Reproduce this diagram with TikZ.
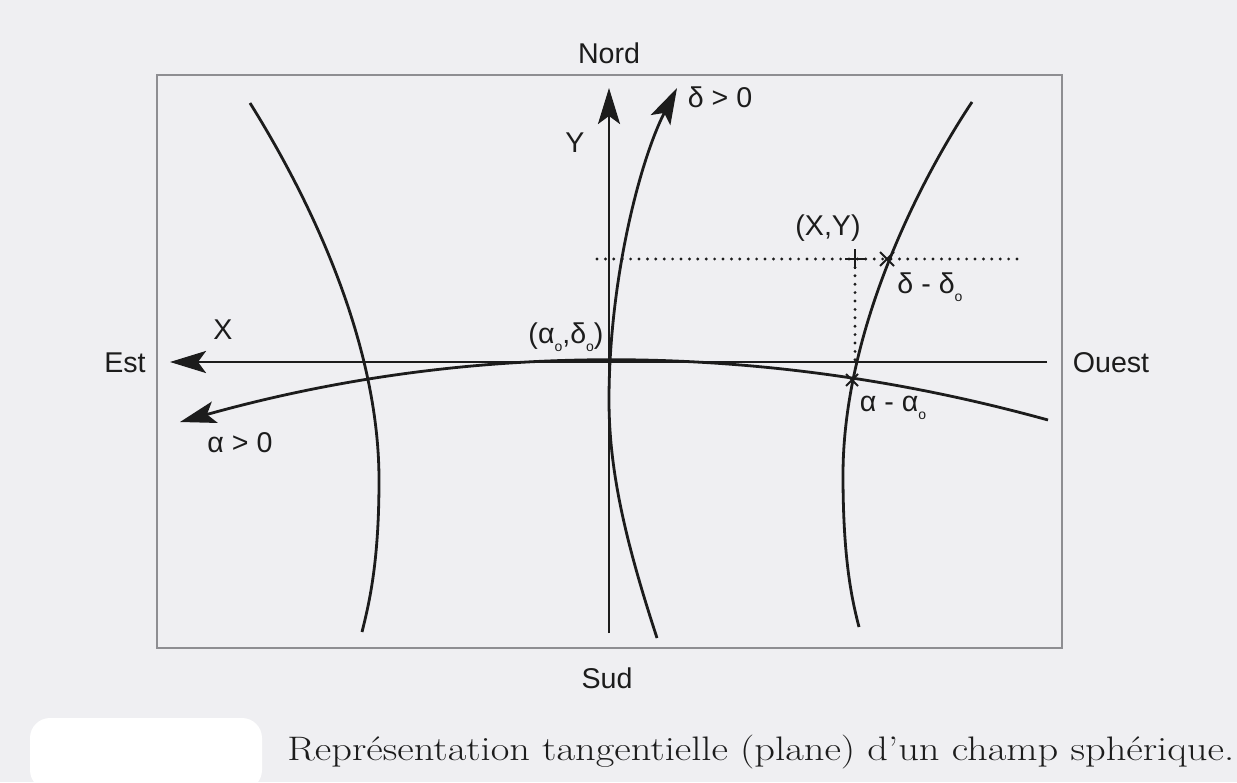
\documentclass[tikz,border=0pt]{standalone}
\usepackage{fontspec}
\usepackage{tikz}
\usetikzlibrary{arrows.meta}
\newfontfamily\labfont{Liberation Sans}
\definecolor{paper}{HTML}{EFEFF2}
\definecolor{framegray}{HTML}{8E8E92}
\definecolor{ink}{HTML}{1C1C1C}
\newcommand\zsub{\raisebox{-0.55ex}{\fontsize{7}{7}\selectfont o}}

\begin{document}
\begin{tikzpicture}[x=0.5pt,y=-0.5pt,
  curve/.style={draw=ink,line width=1.4pt},
  axis/.style={curve,-{Stealth[length=18pt,width=11pt,inset=4pt]}},
  guide/.style={draw=ink,line width=1.6pt,line cap=round,dash pattern=on 0pt off 4.2pt},
  tick/.style={draw=ink,line width=1pt},
  lab/.style={font=\labfont\fontsize{14.3}{16}\selectfont,text=ink,inner sep=1pt}]
 % paper, erased patch and frame
 \fill[paper] (0,0) rectangle (1237,782);
 \useasboundingbox (0,0) rectangle (1237,782);
 \fill[white,rounded corners=10pt] (30,718) rectangle (262,790);
 \draw[framegray,line width=0.7pt] (157,75) rectangle (1062,648);
 % axis ends
 \coordinate (O) at (609,362);
 \coordinate (nordend) at (609,88);
 \coordinate (sudend) at (609,633);
 \coordinate (estend) at (170,362);
 \coordinate (ouestend) at (1047,362);
 \coordinate (alphaend) at (180,422);
 \coordinate (alphastart) at (1048,420);
 \coordinate (XY) at (855,259);
 \coordinate (dcross) at (887,259);
 \coordinate (across) at (852,380);
 % axes
 \draw[axis] (sudend) -- (nordend);
 \draw[axis] (ouestend) -- (estend);
 \draw[axis] (alphastart) .. controls (759,340) and (469,341) .. (alphaend);
 \draw[axis] (657,638) .. controls (625,540) and (609,470) .. (609,400)
   .. controls (609,280) and (640,160) .. (677,88);
 % parallels
 \draw[curve] (250,103) .. controls (303,188) and (379,335) .. (379,480)
   .. controls (379,560) and (370,600) .. (362,632);
 \draw[curve] (972,102) .. controls (920,180) and (843,330) .. (843,475)
   .. controls (843,560) and (852,600) .. (859,627);
 % point (X,Y)
 \draw[guide] (597,259) -- (1023,259);
 \draw[guide] (XY) -- (855,360);
 \draw[tick] ([yshift=-5pt]XY) -- ([yshift=5pt]XY) ([xshift=-5pt]XY) -- ([xshift=5pt]XY);
 \draw[tick] ([shift={(-3.5pt,-3.5pt)}]dcross) -- ([shift={(3.5pt,3.5pt)}]dcross)
   ([shift={(-3.5pt,3.5pt)}]dcross) -- ([shift={(3.5pt,-3.5pt)}]dcross);
 \draw[tick] ([shift={(-3pt,-3pt)}]across) -- ([shift={(3pt,3pt)}]across)
   ([shift={(-3pt,3pt)}]across) -- ([shift={(3pt,-3pt)}]across);
 % labels
 \node[lab] (nord) at (609,53) {Nord};
 \node[lab] (sud) at (607,678) {Sud};
 \node[lab] (est) at (125,363) {Est};
 \node[lab] (ouest) at (1111,363) {Ouest};
 \node[lab] (xlab) at (223,330) {X};
 \node[lab] (ylab) at (575,143) {Y};
 \node[lab] (dpos) at (720,97) {δ > 0};
 \node[lab] (apos) at (240,443) {α > 0};
 \node[lab] (origin) at (566,337) {(α\zsub,δ\zsub)};
 \node[lab] (xy) at (828,228) {(X,Y)};
 \node[lab] (ddiff) at (930,287) {δ - δ\zsub};
 \node[lab] (adiff) at (893,408) {α - α\zsub};
 \node[anchor=base west,font=\fontsize{17}{20}\selectfont,text=ink,inner sep=0pt,xscale=1.19]
   (caption) at (287,760) {Représentation tangentielle (plane) d'un champ sphérique.};
\end{tikzpicture}
\end{document}
